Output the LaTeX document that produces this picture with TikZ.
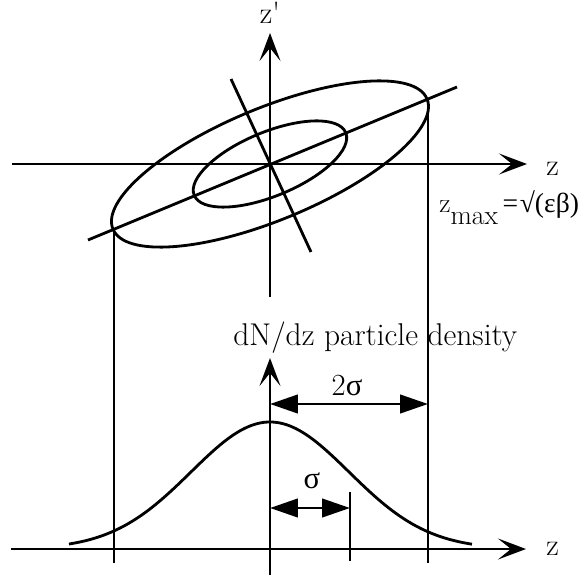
\documentclass[tikz,border=0pt]{standalone}
\usepackage{fontspec}
\usepackage{tikz}
\usetikzlibrary{arrows.meta, calc}
\newfontfamily\greekfont{Liberation Serif}

\tikzset{
  axis/.style={-{Stealth[length=0.56cm, width=0.42cm, inset=0.26cm]}},
  dimline/.style={{Triangle[length=0.56cm, width=0.37cm]}-{Triangle[length=0.56cm, width=0.37cm]}},
  lbl/.style={inner sep=0pt, font=\fontsize{17.5}{20}\selectfont},
}

\begin{document}
\begin{tikzpicture}[x=0.02cm, y=-0.02cm, line width=1.6pt]
\useasboundingbox (0,0) rectangle (585,578);
% --- Phase space ellipse (top) ---
\coordinate (O) at (270,164);
\coordinate (zL) at (12,164);
\coordinate (zR) at (527,164);
\coordinate (zpB) at (270,297);
\coordinate (zpT) at (270,33);
\draw[axis] (zL) -- (zR);
\draw[axis] (zpB) -- (zpT);
\node[lbl, anchor=base west] (zlab) at (545,175) {z};
\node[lbl, anchor=base] (zplab) at (270,23) {z\textquotesingle};
% outer and inner ellipse
\draw[rotate around={22.5:(O)}] (O) ellipse [x radius=170, y radius=56];
\draw[rotate around={22.5:(O)}] (O) ellipse [x radius=82, y radius=32];
% principal axes
\coordinate (majA) at (88,240);
\coordinate (majB) at (457,87);
\coordinate (minA) at (231,79);
\coordinate (minB) at (311,252);
\draw (majA) -- (majB);
\draw (minA) -- (minB);
\node[lbl, font=\fontsize{15.7}{18}\selectfont, anchor=base west] (zmax) at (438,212)
  {z\raisebox{-0.26cm}{max}\,{\greekfont =\kern1pt√(εβ)}};

% --- Projection lines ---
\coordinate (pL) at (114,229);
\coordinate (pR) at (428,99);
\draw (pL) -- (pL |- 0,563);
\draw (pR) -- (pR |- 0,563);

% --- Density profile (bottom) ---
\coordinate (bL) at (11,549);
\coordinate (bR) at (526,549);
\coordinate (dB) at (270,575);
\coordinate (dT) at (270,358);
\draw[axis] (bL) -- (bR);
\draw[axis] (dB) -- (dT);
\node[lbl, anchor=base west] (zlab2) at (545,555) {z};
\node[lbl, font=\fontsize{17.9}{20}\selectfont, anchor=base west] (dens) at (232,345) {dN/dz particle density};
% gaussian
\draw[line join=round] plot[domain=69:472, samples=90, smooth]
  (\x, {549-127*exp(-((\x-270)/79)^2/2)});
% sigma marks
\coordinate (sT) at (350,492);
\coordinate (sB) at (350,561);
\draw (sT) -- (sB);
\draw[dimline] (270,404) -- (pR |- 0,404);
\node[lbl, anchor=base] (twosig) at (347,395) {2{\greekfont σ}};
\draw[dimline] (270,508) -- (sT |- 0,508);
\node[lbl, anchor=base] (sig) at (312,488) {{\greekfont σ}};
\end{tikzpicture}
\end{document}
